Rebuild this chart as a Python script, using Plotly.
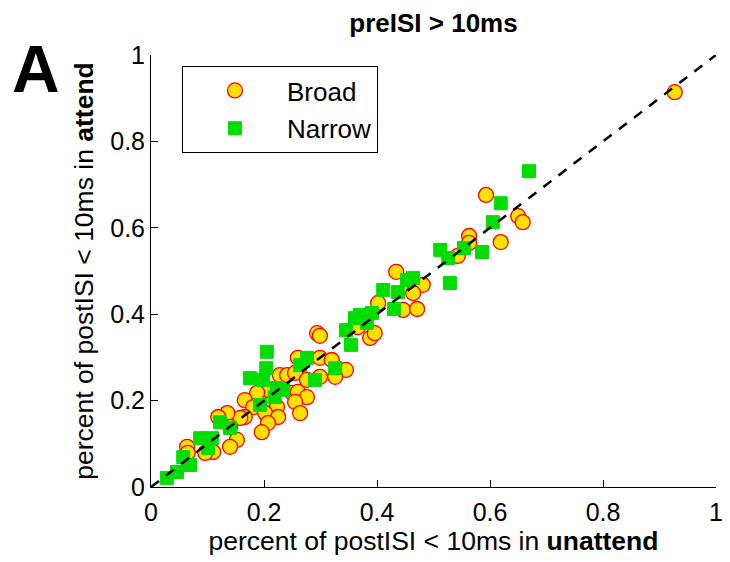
import plotly.graph_objects as go

# ---- data ----
broad_x = [0.927, 0.593, 0.650, 0.658, 0.619, 0.563, 0.563, 0.543, 0.434, 0.481,
           0.464, 0.402, 0.446, 0.471, 0.366, 0.388, 0.396, 0.294, 0.299, 0.260,
           0.299, 0.320, 0.345, 0.326, 0.228, 0.241, 0.255, 0.276, 0.299, 0.250,
           0.260, 0.276, 0.255, 0.264, 0.207, 0.188, 0.166, 0.181, 0.207, 0.223,
           0.202, 0.225, 0.207, 0.196, 0.166, 0.158, 0.135, 0.119, 0.140, 0.152,
           0.140, 0.104, 0.110, 0.096, 0.064, 0.065]
broad_y = [0.914, 0.676, 0.627, 0.613, 0.567, 0.581, 0.565, 0.535, 0.498, 0.468,
           0.449, 0.426, 0.410, 0.412, 0.370, 0.345, 0.356, 0.356, 0.350, 0.299,
           0.299, 0.294, 0.271, 0.255, 0.259, 0.259, 0.264, 0.248, 0.255, 0.218,
           0.220, 0.208, 0.197, 0.171, 0.225, 0.218, 0.201, 0.185, 0.190, 0.185,
           0.171, 0.162, 0.148, 0.127, 0.162, 0.160, 0.171, 0.162, 0.139, 0.109,
           0.093, 0.102, 0.081, 0.079, 0.093, 0.079]

narrow_x = [0.669, 0.619, 0.605, 0.586, 0.554, 0.512, 0.526, 0.529, 0.464, 0.453,
            0.411, 0.437, 0.430, 0.361, 0.370, 0.391, 0.382, 0.345, 0.354, 0.205,
            0.204, 0.175, 0.198, 0.223, 0.234, 0.219, 0.193, 0.264, 0.276, 0.290,
            0.326, 0.122, 0.140, 0.087, 0.108, 0.101, 0.069, 0.057, 0.046, 0.028]
narrow_y = [0.731, 0.657, 0.613, 0.544, 0.553, 0.549, 0.530, 0.472, 0.484, 0.479,
            0.456, 0.451, 0.412, 0.391, 0.398, 0.403, 0.380, 0.363, 0.329, 0.313,
            0.275, 0.252, 0.248, 0.229, 0.225, 0.208, 0.190, 0.282, 0.299, 0.248,
            0.275, 0.150, 0.137, 0.113, 0.113, 0.090, 0.051, 0.069, 0.035, 0.021]

identity = [0, 1]
tick_vals = [0, 0.2, 0.4, 0.6, 0.8, 1]
tick_text = ["0", "0.2", "0.4", "0.6", "0.8", "1"]

FONT = "Liberation Sans, Arial, Helvetica, sans-serif"

fig = go.Figure()
fig.add_trace(go.Scatter(
    x=broad_x, y=broad_y, mode="markers", name="Broad", legendgroup="b",
    marker=dict(symbol="circle", size=15, color="#FFE000",
                line=dict(color="#FF0000", width=1.3)),
))
fig.add_trace(go.Scatter(
    x=narrow_x, y=narrow_y, mode="markers", name="Narrow", legendgroup="n",
    marker=dict(symbol="square", size=13, color="#00DD00",
                line=dict(color="#00DD00", width=1)),
))
fig.add_trace(go.Scatter(
    x=identity, y=identity, mode="lines", showlegend=False,
    line=dict(color="black", width=2.5, dash="10px,9px"), hoverinfo="skip",
))

axis_common = dict(
    range=[0, 1], tickvals=tick_vals, ticktext=tick_text,
    ticks="inside", ticklen=7, tickwidth=1, tickcolor="black",
    showline=True, linecolor="black", linewidth=1, mirror=False,
    showgrid=False, zeroline=False, automargin=False,
    tickfont=dict(family=FONT, size=25, color="black"),
)

fig.update_layout(
    width=730, height=562,
    margin=dict(l=151, r=14, t=55, b=75),
    paper_bgcolor="white", plot_bgcolor="white",
    font=dict(family=FONT, color="black"),
    title=dict(text="<b>preISI &gt; 10ms</b>", x=0.5, xref="paper",
               y=1 - 23 / 562, yref="container", yanchor="middle", xanchor="center",
               font=dict(family=FONT, size=26, color="black")),
    xaxis=dict(axis_common, ticklabelstandoff=3,
               title=dict(text="percent of postISI &lt; 10ms in <b>unattend</b>",
                          font=dict(family=FONT, size=26.5, color="black"), standoff=6)),
    yaxis=dict(axis_common,
               title=dict(text="percent of postISI &lt; 10ms in <b>attend</b>",
                          font=dict(family=FONT, size=26.5, color="black"), standoff=8)),
    legend=dict(x=(182 - 151) / 565, y=(487 - 66) / 432, xanchor="left", yanchor="top",
                bordercolor="black", borderwidth=1, bgcolor="white",
                font=dict(family=FONT, size=26, color="black"),
                itemwidth=94, tracegroupgap=1),
    showlegend=True,
    annotations=[dict(text="<b>A</b>", xref="paper", yref="paper",
                      x=(10 - 151) / 565, y=(487 - 30) / 432, xanchor="left", yanchor="top",
                      showarrow=False, font=dict(family=FONT, size=66, color="black"))],
)

fig.write_html("out.html")
